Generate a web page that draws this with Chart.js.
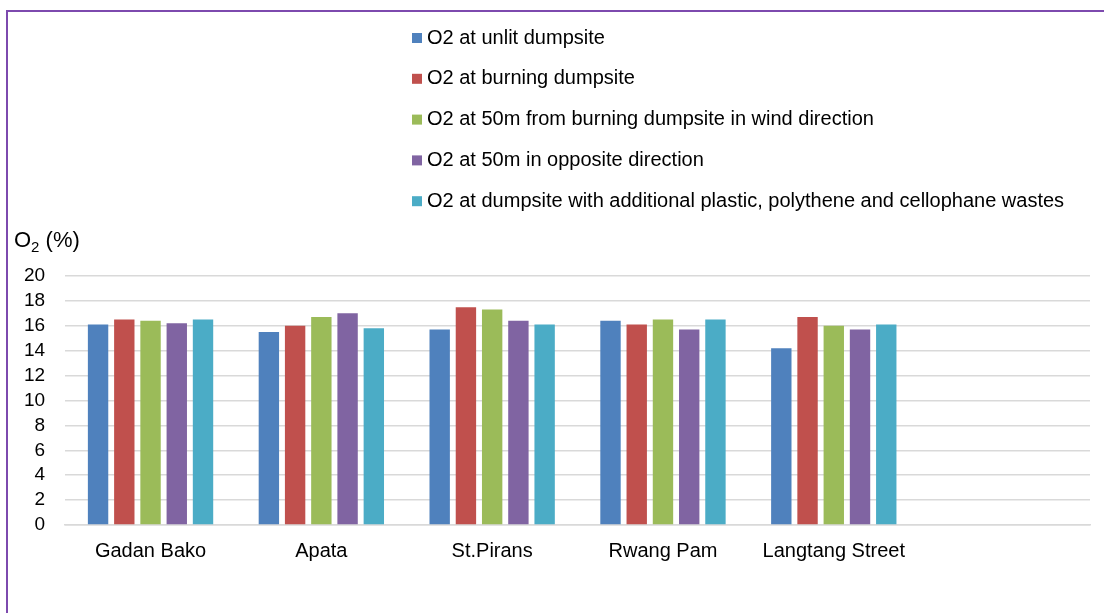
<!DOCTYPE html>
<html>
<head>
<meta charset="utf-8">
<script src="https://cdn.jsdelivr.net/npm/chart.js@4.4.1/dist/chart.umd.min.js"></script>
<style>
  html, body { margin: 0; padding: 0; background: #fff; overflow: hidden; }
  #wrap { position: relative; width: 1104px; height: 613px; }
  #frame {
    position: absolute; left: 6px; top: 10px; width: 1200px; height: 700px;
    border: 2px solid #7D4AAE; box-sizing: border-box; pointer-events: none;
  }
  canvas { position: absolute; left: 0; top: 0; }
</style>
</head>
<body>
<div id="wrap">
  <canvas id="chart" width="1104" height="613"></canvas>
  <div id="frame"></div>
</div>
<script>
// Sampling sites (the last slot is left empty on the axis)
const sites = ['Gadan Bako', 'Apata', 'St.Pirans', 'Rwang Pam', 'Langtang Street', ''];

// O2 concentration (%) per site for each measurement condition
const unlitDumpsite      = [16.1, 15.5, 15.7, 16.4, 14.2];
const burningDumpsite    = [16.5, 16.0, 17.5, 16.1, 16.7];
const windDirection50m   = [16.4, 16.7, 17.3, 16.5, 16.0];
const oppositeDir50m     = [16.2, 17.0, 16.4, 15.7, 15.7];
const withPlasticWastes  = [16.5, 15.8, 16.1, 16.5, 16.1];

const seriesNames = [
  'O2 at unlit dumpsite',
  'O2 at burning dumpsite',
  'O2 at 50m from burning dumpsite in wind direction',
  'O2 at 50m in opposite direction',
  'O2 at dumpsite with additional plastic, polythene and cellophane wastes'
];
const seriesColors = ['#4F81BD', '#C0504D', '#9BBB59', '#8064A2', '#4BACC6'];
const seriesValues = [unlitDumpsite, burningDumpsite, windDirection50m, oppositeDir50m, withPlasticWastes];

const yTicks = [0, 2, 4, 6, 8, 10, 12, 14, 16, 18, 20];

const FONT = '"Liberation Sans", Arial, sans-serif';

// Vertical legend list above the plot
const legendList = {
  id: 'legendList',
  afterDraw(chart) {
    const ctx = chart.ctx;
    ctx.save();
    ctx.font = '20px ' + FONT;
    ctx.textBaseline = 'middle';
    chart.data.datasets.forEach((ds, i) => {
      const y = 38 + i * 40.8;
      ctx.fillStyle = ds.backgroundColor;
      ctx.fillRect(412, y - 5, 10, 10);
      ctx.fillStyle = '#000';
      ctx.fillText(ds.label, 427, y);
    });
    ctx.restore();
  }
};

// "O2 (%)" axis caption with subscript
const axisCaption = {
  id: 'axisCaption',
  afterDraw(chart) {
    const ctx = chart.ctx;
    ctx.save();
    ctx.fillStyle = '#000';
    ctx.textBaseline = 'alphabetic';
    ctx.font = '22px ' + FONT;
    let x = 14;
    const base = 247;
    ctx.fillText('O', x, base);
    x += ctx.measureText('O').width;
    ctx.font = '15px ' + FONT;
    ctx.fillText('2', x, base + 5);
    x += ctx.measureText('2').width;
    ctx.font = '22px ' + FONT;
    ctx.fillText(' (%)', x, base);
    ctx.restore();
  }
};

new Chart(document.getElementById('chart'), {
  type: 'bar',
  data: {
    labels: sites,
    datasets: seriesNames.map((name, i) => ({
      label: name,
      data: seriesValues[i],
      backgroundColor: seriesColors[i],
      borderWidth: 0,
      categoryPercentage: 0.768,
      barPercentage: 0.777
    }))
  },
  options: {
    responsive: false,
    animation: false,
    layout: { padding: { left: 4, right: 14, top: 276, bottom: 36 } },
    plugins: {
      legend: { display: false },
      tooltip: { enabled: false }
    },
    scales: {
      x: {
        grid: { display: false, drawTicks: false },
        border: { display: true, color: '#D9D9D9', width: 1.5 },
        ticks: { font: { family: FONT, size: 20 }, color: '#000', padding: 14, maxRotation: 0, autoSkip: false }
      },
      y: {
        min: 0, max: 20,
        afterBuildTicks(scale) { scale.ticks = yTicks.map(v => ({ value: v })); },
        grid: { color: '#D9D9D9', lineWidth: 1.5, drawTicks: false },
        border: { display: false },
        ticks: { font: { family: FONT, size: 19 }, color: '#000', padding: 20, autoSkip: false }
      }
    }
  },
  plugins: [legendList, axisCaption]
});
</script>
</body>
</html>
